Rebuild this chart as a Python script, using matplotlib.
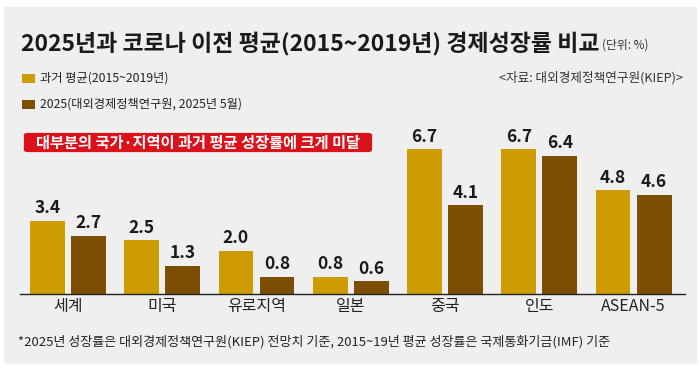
import matplotlib
matplotlib.use("Agg")
import matplotlib.pyplot as plt
from matplotlib.patches import FancyBboxPatch, Rectangle
import numpy as np

plt.rcParams['font.family'] = ['Noto Sans CJK KR', 'DejaVu Sans']

# data
categories = ["세계", "미국", "유로지역", "일본", "중국", "인도", "ASEAN-5"]
past_avg = [3.4, 2.5, 2.0, 0.8, 6.7, 6.7, 4.8]
y2025 = [2.7, 1.3, 0.8, 0.6, 4.1, 6.4, 4.6]
series_labels = ["과거 평균(2015~2019년)", "2025(대외경제정책연구원, 2025년 5월)"]

YELLOW = '#cc9c02'
BROWN = '#7b4e02'
BG = '#eeefee'
W, H = 700, 369

fig = plt.figure(figsize=(7.0, 3.69), dpi=100)
fig.patch.set_facecolor('white')

# gray panel
fig.patches.append(Rectangle((4 / W, 1 - 364 / H), 693 / W, 357 / H,
                             transform=fig.transFigure, facecolor=BG,
                             edgecolor='none', zorder=-10))

ax = fig.add_axes([20 / W, 1 - 294 / H, 665 / W, 164 / H])
ax.set_facecolor('none')

x = np.arange(len(categories))
bw = 0.37
off = 0.218
b1 = ax.bar(x - off, past_avg, bw, color=YELLOW)
b2 = ax.bar(x + off, y2025, bw, color=BROWN)

for bars, vals in ((b1, past_avg), (b2, y2025)):
    for b, v in zip(bars, vals):
        ax.annotate(f"{v:.1f}", (b.get_x() + b.get_width() / 2, v),
                    xytext=(0, 2.5), textcoords='offset points',
                    ha='center', va='bottom', fontsize=12.5, fontweight='bold',
                    color='#1a1a1a')

ax.set_xlim(-0.509, 6.546)
ax.set_ylim(0, 164 / 21.6)
ax.set_xticks(x)
ax.set_xticklabels(categories, fontsize=11.5, color='#222222')
ax.tick_params(axis='x', length=0, pad=3)
ax.set_yticks([])
for s in ('top', 'right', 'left'):
    ax.spines[s].set_visible(False)
ax.spines['bottom'].set_color('#222222')
ax.spines['bottom'].set_linewidth(1.0)

# title
fig.text(21 / W, 1 - 43 / H, "2025년과 코로나 이전 평균(2015~2019년) 경제성장률 비교",
         fontsize=16.5, fontweight='bold', color='#1a1a1a', va='center', ha='left')
fig.text(602 / W, 1 - 45 / H, "(단위: %)", fontsize=8.5, color='#333333',
         va='center', ha='left')

# legend
for i, (lab, col) in enumerate(zip(series_labels, [YELLOW, BROWN])):
    yc = 78 + i * 26
    fig.patches.append(Rectangle((22 / W, 1 - (yc + 4.5) / H), 13 / W, 9 / H,
                                 transform=fig.transFigure, facecolor=col,
                                 edgecolor='none'))
    fig.text(40 / W, 1 - yc / H, lab, fontsize=8.8, color='#222222',
             va='center', ha='left')

fig.text(683 / W, 1 - 78 / H, "<자료: 대외경제정책연구원(KIEP)>", fontsize=9.1,
         color='#333333', va='center', ha='right')

# red callout
fig.patches.append(FancyBboxPatch((26 / W, 1 - 151 / H), 344 / W, 17 / H,
                                  boxstyle='round,pad=0.003,rounding_size=0.006',
                                  transform=fig.transFigure, facecolor='#d9121b',
                                  edgecolor='none', zorder=5))
fig.text(198 / W, 1 - 142.5 / H, "대부분의 국가·지역이 과거 평균 성장률에 크게 미달",
         fontsize=11, fontweight='bold', color='white', va='center', ha='center',
         zorder=6)

# footnote
fig.text(18 / W, 1 - 342 / H,
         "*2025년 성장률은 대외경제정책연구원(KIEP) 전망치 기준, 2015~19년 평균 성장률은 국제통화기금(IMF) 기준",
         fontsize=9.4, color='#222222', va='center', ha='left')

fig.savefig("out.png", dpi=100, facecolor=fig.get_facecolor())
